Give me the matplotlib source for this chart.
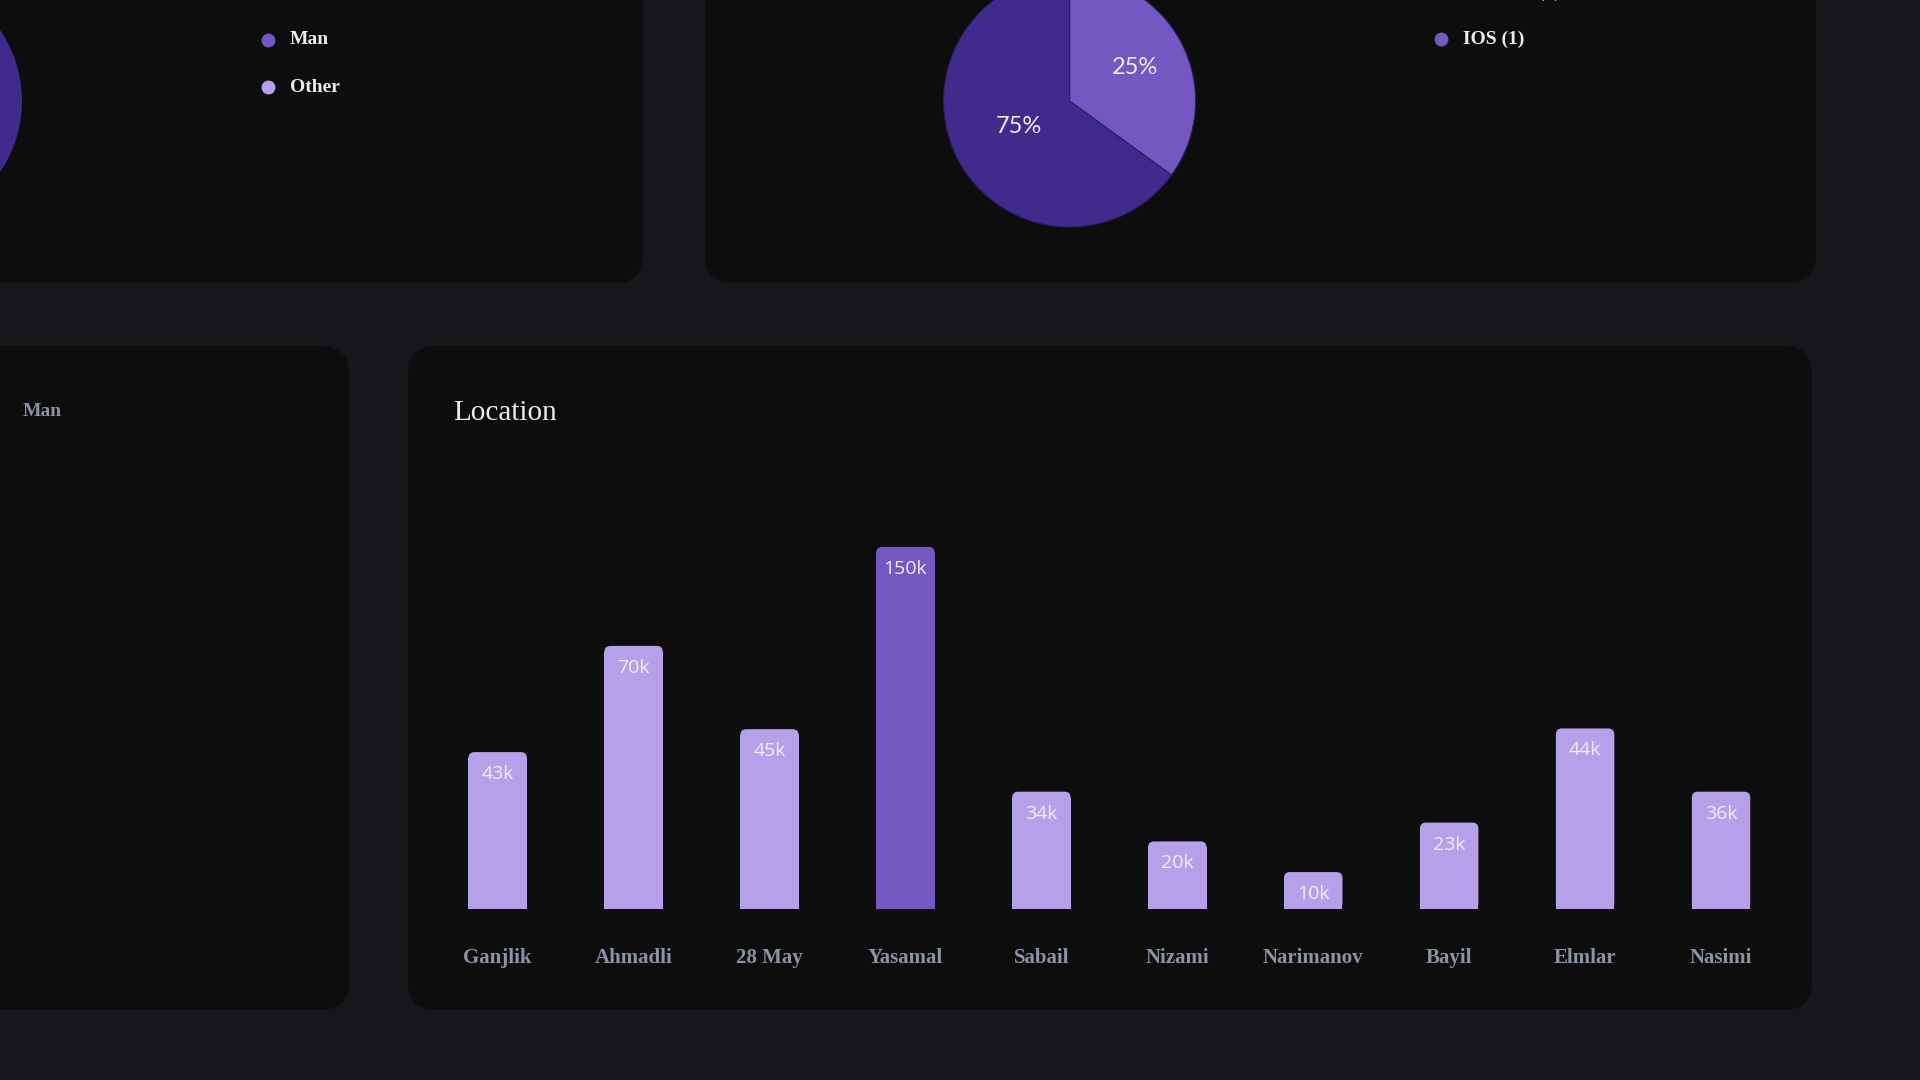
import numpy as np
import matplotlib.pyplot as plt
from matplotlib.patches import FancyBboxPatch

# location bar chart (labels as printed, heights as drawn in the dashboard)
locations = ["Ganjlik", "Ahmadli", "28 May", "Yasamal", "Sabail",
             "Nizami", "Narimanov", "Bayil", "Elmlar", "Nasimi"]
value_labels = ["43k", "70k", "45k", "150k", "34k", "20k", "10k", "23k", "44k", "36k"]
bar_heights = [65, 109, 74.5, 150, 48.6, 28, 15.3, 35.8, 74.8, 48.6]
highlight = "Yasamal"

# device pie (IOS slice first, then Android)
device_shares = [35, 65]
device_labels = ["25%", "75%"]
device_legend = ["Android (3)", "IOS (1)"]

# gender pie, only its right edge is on screen
gender_shares = [1]
gender_legend = ["Man", "Other"]

BG = "#17161b"
PANEL = "#0d0d0d"
DEEP = "#3f2b8c"
MID = "#7457c0"
LIGHT = "#b5a0e9"
GRAY = "#8b93a7"
WHITE = "#ededed"
SERIF = "Liberation Serif"
SANS = "Open Sans"

fig = plt.figure(figsize=(19.2, 10.8), dpi=100, facecolor=BG)

# full-figure axes in pixel units (y up) for the cards, pies and legends
bg = fig.add_axes([0, 0, 1, 1])
bg.set_facecolor(BG)


def card(x0, y0_top, x1, y1_top):
    # card given in top-down pixel coordinates
    bg.add_patch(FancyBboxPatch((x0, 1080 - y1_top), x1 - x0, y1_top - y0_top,
                                boxstyle="round,pad=0,rounding_size=28",
                                fc=PANEL, ec="none", zorder=0))


card(-60, -60, 643, 283)
card(705, -60, 1816, 283)
card(-60, 346, 349, 1010)
card(408, 346, 1812, 1010)

# gender pie (cut off on the left)
bg.pie(gender_shares, colors=[DEEP], center=(-104, 1080 - 101), radius=126,
       frame=True, wedgeprops=dict(lw=0))

for i, name in enumerate(gender_legend):
    y = 1080 - (39.5 + i * 47.5)
    bg.scatter(268, y, s=100, color=[MID, LIGHT][i], zorder=3, lw=0)
    bg.text(290, y, name, color=WHITE, fontsize=14, fontweight="bold",
            family=SERIF, va="center", ha="left")

# device pie
pie_center = (1069.6, 1080 - 101)
pie_r = 126
wedges, texts = bg.pie(device_shares, labels=device_labels, colors=[MID, DEEP],
                       center=pie_center, radius=pie_r, startangle=90,
                       counterclock=False, labeldistance=0.5, frame=True,
                       wedgeprops=dict(ec="#2a1f5e", lw=0.8),
                       textprops=dict(color=WHITE, fontsize=17, family="Lato",
                                      ha="center", va="center"))
# nudge the percent labels toward where the dashboard puts them
for w, t, d in zip(wedges, texts, [0.58, 0.45]):
    ang = np.deg2rad((w.theta1 + w.theta2) / 2)
    t.set_position((pie_center[0] + pie_r * d * np.cos(ang),
                    pie_center[1] + pie_r * d * np.sin(ang)))

for i, name in enumerate(device_legend):
    y = 1080 - (-8 + i * 47)
    bg.scatter(1441, y, s=100, color=[DEEP, MID][i], zorder=3, lw=0)
    bg.text(1463, y, name, color=WHITE, fontsize=14, fontweight="bold",
            family=SERIF, va="center", ha="left")

# card titles
bg.text(23, 1080 - 411.7, "Man", color=GRAY, fontsize=14, fontweight="bold",
        family=SERIF, va="center", ha="left")
bg.text(453, 1080 - 412.7, "Location", color=WHITE, fontsize=21,
        family=SERIF, va="center", ha="left")

bg.set_xlim(0, 1920)
bg.set_ylim(0, 1080)
bg.set_aspect("auto")
bg.axis("off")

# bar chart axes
left_px, right_px = 429.7, 1789.0
base_px, height_px = 171.0, 420.0
ymax = 174.0
ax = fig.add_axes([left_px / 1920, base_px / 1080,
                   (right_px - left_px) / 1920, height_px / 1080])
ax.set_facecolor("none")
ax.set_xlim(-0.5, len(locations) - 0.5)
ax.set_ylim(0, ymax)

x = list(range(len(locations)))
colors = [MID if loc == highlight else LIGHT for loc in locations]
bars = ax.bar(x, bar_heights, width=0.43, color=colors, lw=0)

# round the top corners: a rounded box on top of a shortened square bar
ux = len(locations) / (right_px - left_px)
uy = ymax / height_px
rx, ry = 6 * ux, 6 * uy
for b in bars:
    h = b.get_height()
    b.set_height(h - ry)
    ax.add_patch(FancyBboxPatch((b.get_x(), 0), b.get_width(), h,
                                boxstyle=f"round,pad=0,rounding_size={rx}",
                                mutation_aspect=ry / rx,
                                fc=b.get_facecolor(), ec="none", lw=0))

for i, (h, lab) in enumerate(zip(bar_heights, value_labels)):
    ax.text(i, h - 22 * uy, lab, ha="center", va="center", color="#f3eeff",
            fontsize=14, family=SANS)

ax.set_xticks(x, locations)
ax.set_yticks([])
ax.tick_params(axis="x", length=0, pad=28, labelcolor=GRAY, labelsize=15)
for t in ax.get_xticklabels():
    t.set_family(SERIF)
    t.set_fontweight("bold")
for s in ax.spines.values():
    s.set_visible(False)

fig.savefig("out.png", dpi=100, facecolor=BG)
